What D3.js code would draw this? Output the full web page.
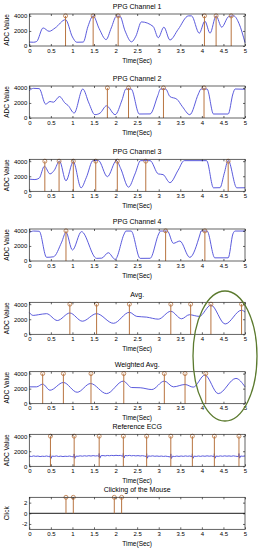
<!DOCTYPE html>
<html>
<head>
<meta charset="utf-8">
<script src="https://cdn.jsdelivr.net/npm/d3@7"></script>
<style>
  body { margin: 0; background: #fff; }
  text { font-family: "Liberation Sans", Arial, sans-serif; }
</style>
</head>
<body>
<svg id="fig" width="259" height="550"></svg>
<script>
// ---- data: [time (s), ADC value] ----
const titles = ["PPG Channel 1", "PPG Channel 2", "PPG Channel 3", "PPG Channel 4",
                "Avg.", "Weighted Avg.", "Reference ECG", "Clicking of the Mouse"];

const ch1 = [[0,520],[0.1,500],[0.17,600],[0.32,2400],[0.46,1950],[0.6,2400],[0.84,3500],
  [1.0,1200],[1.1,500],[1.25,520],[1.36,2600],[1.48,4000],[1.62,2300],[1.78,850],[1.9,2400],
  [2.02,3950],[2.1,3950],[2.22,2000],[2.37,550],[2.47,1300],[2.6,3200],[2.87,2600],[2.99,1100],
  [3.12,2500],[3.26,800],[3.45,2200],[3.69,4000],[3.76,4000],[3.94,1700],[4.07,3300],[4.19,1700],
  [4.33,4000],[4.46,2500],[4.62,3900],[4.74,4000],[4.86,3000],[5,450]];
const ch1Peaks = [0.84, 1.48, 2.06, 4.06, 4.33, 4.68];

const ch2 = [[0,3640],[0.1,3940],[0.23,3900],[0.38,1840],[0.48,2190],[0.56,2100],[0.7,2850],
  [0.83,1970],[0.9,1660],[1.04,660],[1.24,3850],[1.38,2000],[1.52,440],[1.64,650],[1.79,1620],
  [1.99,440],[2.15,2400],[2.24,3850],[2.36,3850],[2.55,530],[2.8,540],[2.98,3000],[3.04,3850],
  [3.16,3850],[3.26,2850],[3.42,2500],[3.55,1500],[3.72,440],[3.92,3200],[3.98,3850],[4.12,3850],
  [4.27,530],[4.61,530],[4.72,3200],[4.77,3850],[5,3820]];
const ch2Peaks = [1.81, 2.3, 3.11, 4.05];

const ch3 = [[0,1620],[0.13,1560],[0.23,1750],[0.35,3330],[0.48,2310],[0.58,2800],[0.7,4020],
  [0.85,1390],[1.02,3930],[1.2,460],[1.32,1800],[1.48,4100],[1.6,4100],[1.81,1940],[2.02,4070],
  [2.12,3000],[2.3,550],[2.45,2300],[2.58,4070],[2.8,4070],[2.99,2310],[3.1,2220],[3.26,1150],
  [3.45,2800],[3.59,4070],[4.11,4070],[4.27,460],[4.42,480],[4.52,2400],[4.61,4100],[4.81,460],[5,470]];
const ch3Peaks = [0.36, 0.69, 1.02, 1.54, 2.04, 2.7, 4.61];

const ch4 = [[0,3760],[0.1,3980],[0.23,3950],[0.4,490],[0.56,560],[0.75,2500],[0.85,3810],
  [1.0,1460],[1.21,3900],[1.56,350],[1.68,380],[1.83,1100],[1.99,220],[2.2,3600],[2.24,3980],
  [2.36,3980],[2.57,350],[2.8,360],[3.0,3600],[3.04,3980],[3.2,3980],[3.34,2350],[3.49,2650],
  [3.72,480],[3.96,3600],[3.98,3980],[4.12,3980],[4.3,420],[4.61,420],[4.72,3600],[4.77,3980],[5,3980]];
const ch4Peaks = [0.85, 3.16, 4.07];

const avg = [[0,2880],[0.09,2510],[0.21,2600],[0.4,2740],[0.65,1830],[0.94,2830],[1.23,1740],
  [1.56,2740],[1.95,1460],[2.32,2920],[2.49,2380],[2.72,2280],[2.99,2010],[3.28,3060],[3.53,2060],
  [3.71,2600],[3.94,2380],[4.21,3880],[4.54,1370],[4.92,3200],[5,2950]];
const avgPeaks = [0.94, 1.56, 2.32, 3.28, 3.74, 4.21, 4.92];

const wavg = [[0,2240],[0.17,2240],[0.31,2600],[0.48,1790],[0.79,2820],[1.11,1520],[1.42,2680],
  [1.79,1340],[2.18,3000],[2.37,2150],[2.57,2120],[2.84,1880],[3.13,3000],[3.34,2240],[3.61,2550],
  [3.8,2200],[4.07,3800],[4.38,1340],[4.79,3360],[5,2240]];
const wavgPeaks = [0.31, 0.79, 1.43, 2.19, 3.13, 3.61, 4.09];

const ecg = [[0,1350],[0.05,1300],[0.1,1380],[0.15,1320],[0.2,1360],[0.25,1290],[0.3,1340],
  [0.35,1310],[0.4,1370],[0.45,1300],[0.48,1250],[0.49,1650],[0.505,1050],[0.53,1360],[0.58,1320],
  [0.63,1380],[0.68,1300],[0.73,1350],[0.78,1290],[0.83,1340],[0.88,1310],[0.93,1360],[0.98,1300],
  [1.03,1240],[1.04,1640],[1.055,1060],[1.08,1350],[1.13,1330],[1.18,1390],[1.23,1340],[1.28,1400],
  [1.33,1350],[1.38,1410],[1.43,1360],[1.48,1420],[1.53,1370],[1.58,1400],[1.61,1300],[1.62,1700],
  [1.635,1080],[1.66,1400],[1.71,1430],[1.76,1380],[1.81,1440],[1.86,1400],[1.91,1450],[1.96,1410],
  [2.01,1460],[2.06,1420],[2.11,1450],[2.17,1330],[2.18,1720],[2.195,1100],[2.22,1440],[2.27,1400],
  [2.32,1450],[2.37,1390],[2.42,1430],[2.47,1380],[2.52,1420],[2.57,1370],[2.62,1410],[2.67,1360],
  [2.71,1290],[2.72,1680],[2.735,1070],[2.76,1380],[2.81,1340],[2.86,1390],[2.91,1330],[2.96,1370],
  [3.01,1320],[3.06,1360],[3.11,1310],[3.16,1350],[3.21,1300],[3.27,1240],[3.28,1650],[3.295,1040],
  [3.32,1340],[3.37,1300],[3.42,1360],[3.47,1310],[3.52,1370],[3.57,1320],[3.62,1380],[3.67,1330],
  [3.72,1370],[3.77,1270],[3.78,1660],[3.795,1060],[3.82,1350],[3.87,1310],[3.92,1370],[3.97,1320],
  [4.02,1380],[4.07,1330],[4.12,1390],[4.17,1340],[4.22,1380],[4.28,1280],[4.29,1680],[4.305,1070],
  [4.33,1360],[4.38,1320],[4.43,1380],[4.48,1330],[4.53,1390],[4.58,1340],[4.63,1380],[4.68,1330],
  [4.73,1390],[4.78,1340],[4.85,1290],[4.86,1700],[4.875,1080],[4.9,1370],[4.95,1330],[5,1380]];
const ecgPeaks = [0.49, 1.04, 1.62, 2.18, 2.72, 3.28, 3.78, 4.29, 4.86];

const clicks = [[0,0],[5,0]];
const clickPeaks = [0.85, 1.02, 1.97, 2.14];

const xTicks = [0, 0.5, 1, 1.5, 2, 2.5, 3, 3.5, 4, 4.5, 5];
const adcTicks = [0, 2000, 4000];
const clickTicks = [-2, 0, 2];

// ---- layout ----
const panelTops = [14, 86, 159.3, 229, 302.3, 371.7, 434.3, 497.3];
const PANEL_H = 32;
const LEFT = 29.3, RIGHT = 245;
const BLUE = "#4848d8", STEM = "#b87440";

const series = [ch1, ch2, ch3, ch4, avg, wavg, ecg, clicks];
const peaks = [ch1Peaks, ch2Peaks, ch3Peaks, ch4Peaks, avgPeaks, wavgPeaks, ecgPeaks, clickPeaks];

const svg = d3.select("#fig");
const x = d3.scaleLinear().domain([0, 5]).range([LEFT, RIGHT]);
const plain = d => String(d);   // MATLAB style labels: hyphen minus, no trailing zeros

series.forEach((data, i) => {
    const top = panelTops[i], bottom = top + PANEL_H;
    const isClick = i === 7;
    const y = isClick
        ? d3.scaleLinear().domain([-3, 3]).range([bottom, top])
        : d3.scaleLinear().domain([0, 4250]).range([bottom, top]);
    const peakVal = isClick ? 3 : 4000;
    const yTicks = isClick ? clickTicks : adcTicks;
    const g = svg.append("g");

    g.append("rect")
        .attr("x", LEFT).attr("y", top)
        .attr("width", RIGHT - LEFT).attr("height", PANEL_H)
        .attr("fill", "#fff");

    // signal
    const line = d3.line()
        .x(d => x(d[0])).y(d => y(d[1]))
        .curve(i === 6 || isClick ? d3.curveLinear : d3.curveMonotoneX);
    g.append("path")
        .datum(data)
        .attr("d", line)
        .attr("fill", "none")
        .attr("stroke", isClick ? "#000" : BLUE)
        .attr("stroke-width", 0.9);

    // stems
    g.selectAll(".stem").data(peaks[i]).join("line")
        .attr("x1", d => x(d)).attr("x2", d => x(d))
        .attr("y1", y(0)).attr("y2", y(peakVal))
        .attr("stroke", STEM).attr("stroke-width", 1);
    g.selectAll(".mark").data(peaks[i]).join("circle")
        .attr("cx", d => x(d)).attr("cy", y(peakVal)).attr("r", 2)
        .attr("fill", "none").attr("stroke", STEM).attr("stroke-width", 0.8);

    // axes, ticks pointing inwards on all four sides
    g.append("g").attr("transform", `translate(0,${bottom})`)
        .call(d3.axisBottom(x).tickValues(xTicks).tickSizeInner(-2).tickSizeOuter(0)
            .tickPadding(2.5).tickFormat(plain));
    g.append("g").attr("transform", `translate(0,${top})`)
        .call(d3.axisTop(x).tickValues(xTicks).tickSizeInner(-2).tickSizeOuter(0)
            .tickFormat(""));
    g.append("g").attr("transform", `translate(${LEFT},0)`)
        .call(d3.axisLeft(y).tickValues(yTicks)
            .tickSizeInner(-2).tickSizeOuter(0).tickPadding(2).tickFormat(plain));
    g.append("g").attr("transform", `translate(${RIGHT},0)`)
        .call(d3.axisRight(y).tickValues(yTicks)
            .tickSizeInner(-2).tickSizeOuter(0).tickFormat(""));
    g.selectAll(".domain").remove();
    g.selectAll(".tick line").attr("stroke", "#000").attr("stroke-width", 0.6);
    g.selectAll(".tick text").attr("font-size", 6).attr("fill", "#000")
        .attr("font-family", "Liberation Sans, Arial, sans-serif");

    g.append("rect")
        .attr("x", LEFT).attr("y", top)
        .attr("width", RIGHT - LEFT).attr("height", PANEL_H)
        .attr("fill", "none").attr("stroke", "#222").attr("stroke-width", 0.7);

    // labels
    g.append("text")
        .attr("x", (LEFT + RIGHT) / 2).attr("y", top - 5)
        .attr("text-anchor", "middle").attr("font-size", 7)
        .text(titles[i]);
    g.append("text")
        .attr("x", (LEFT + RIGHT) / 2).attr("y", bottom + 16.5)
        .attr("text-anchor", "middle").attr("font-size", 6.5)
        .text("Time(Sec)");
    g.append("text")
        .attr("transform", `translate(9,${(top + bottom) / 2}) rotate(-90)`)
        .attr("text-anchor", "middle").attr("font-size", 6.5)
        .text(isClick ? "Click" : "ADC Value");
});

// highlight drawn over the Avg. panels
svg.append("ellipse")
    .attr("cx", 225).attr("cy", 356).attr("rx", 32).attr("ry", 65)
    .attr("fill", "none").attr("stroke", "#5b7a2e").attr("stroke-width", 1.3);
</script>
</body>
</html>
